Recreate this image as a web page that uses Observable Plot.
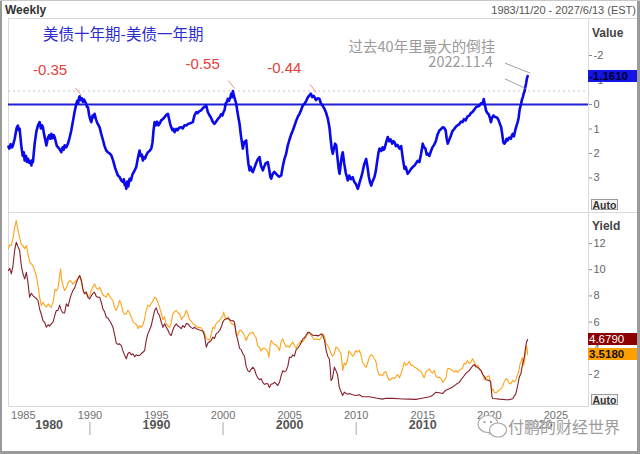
<!DOCTYPE html>
<html><head><meta charset="utf-8">
<script src="https://cdn.jsdelivr.net/npm/d3@7"></script>
<script src="https://cdn.jsdelivr.net/npm/@observablehq/plot@0.6"></script>
<style>
body{margin:0;background:#fff;}
#wrap{position:relative;width:640px;height:454px;overflow:hidden;background:#fff;font-family:"Liberation Sans",Arial,sans-serif;}
.abs{position:absolute;white-space:nowrap;}
.ln{position:absolute;background:#d9d9d9;}
.box{position:absolute;height:12px;line-height:12px;font-size:11.5px;font-weight:bold;padding-left:1px;box-sizing:border-box;}
.auto{position:absolute;width:27px;height:11px;line-height:10px;font-size:10.5px;font-weight:bold;color:#333;border:1px solid #9a9a9a;background:#f4f4f4;text-align:center;box-sizing:border-box;}
</style></head>
<body><div id="wrap"></div>
<script>
// ---------- data ----------
// 10y - 1y spread, decimal year, value
const spread = [
[1983.88,1.72],[1983.95,1.80],[1984.05,1.62],[1984.15,1.75],[1984.22,1.67],[1984.35,1.40],[1984.50,0.95],[1984.59,0.86],[1984.66,1.05],[1984.72,0.99],
[1984.85,1.70],[1984.95,2.10],[1985.03,1.95],[1985.10,2.29],[1985.20,2.10],[1985.28,2.35],[1985.35,2.22],[1985.45,2.38],[1985.52,2.30],[1985.60,2.49],
[1985.66,2.28],[1985.72,2.35],[1985.85,1.60],[1985.98,1.10],[1986.10,0.85],[1986.22,0.72],[1986.32,0.98],[1986.40,0.85],[1986.47,0.93],[1986.55,1.20],
[1986.65,1.45],[1986.73,1.67],[1986.85,1.35],[1986.95,1.25],[1987.03,1.40],[1987.10,1.20],[1987.20,1.38],[1987.28,1.25],[1987.35,1.33],[1987.45,1.55],
[1987.52,1.70],[1987.60,1.74],[1987.72,1.82],[1987.85,1.95],[1987.95,1.75],[1988.03,1.85],[1988.10,1.67],[1988.22,1.75],[1988.35,1.60],[1988.48,1.35],
[1988.60,1.06],[1988.72,0.70],[1988.85,0.30],[1988.98,-0.03],[1989.05,-0.15],[1989.12,-0.05],[1989.18,-0.28],[1989.23,-0.33],[1989.32,-0.18],[1989.40,-0.25],
[1989.48,-0.10],[1989.55,-0.20],[1989.60,-0.16],[1989.70,-0.05],[1989.78,0.10],[1989.85,0.11],[1989.95,0.45],[1990.03,0.62],[1990.11,0.72],[1990.20,0.45],
[1990.28,0.52],[1990.35,0.38],[1990.45,0.60],[1990.55,0.75],[1990.65,0.85],[1990.73,0.93],[1990.85,1.20],[1990.98,1.45],[1991.10,1.70],[1991.23,1.88],
[1991.35,1.95],[1991.48,2.00],[1991.61,2.08],[1991.75,2.30],[1991.90,2.60],[1992.00,2.75],[1992.10,2.90],[1992.22,2.95],[1992.35,3.10],[1992.48,3.17],
[1992.55,3.05],[1992.62,3.30],[1992.68,3.20],[1992.73,3.44],[1992.80,3.15],[1992.88,3.35],[1992.98,3.03],[1993.08,3.10],[1993.20,2.85],[1993.36,2.69],
[1993.48,2.55],[1993.60,2.20],[1993.73,1.88],[1993.82,2.10],[1993.90,2.05],[1993.98,2.29],[1994.08,2.15],[1994.15,2.20],[1994.23,2.08],[1994.35,1.95],
[1994.48,1.90],[1994.61,1.80],[1994.70,1.55],[1994.78,1.05],[1994.86,0.72],[1994.95,0.85],[1995.05,0.70],[1995.15,0.85],[1995.23,0.79],[1995.35,0.65],
[1995.48,0.60],[1995.61,0.52],[1995.70,0.45],[1995.80,0.40],[1995.86,0.38],[1995.95,0.60],[1996.03,0.80],[1996.11,0.93],[1996.20,1.05],[1996.28,1.00],
[1996.36,1.13],[1996.48,1.00],[1996.58,1.05],[1996.70,0.95],[1996.86,0.93],[1996.98,0.98],[1997.10,0.85],[1997.24,0.86],[1997.35,0.80],[1997.48,0.78],
[1997.60,0.75],[1997.73,0.72],[1997.85,0.45],[1997.99,0.31],[1998.10,0.35],[1998.20,0.28],[1998.36,0.24],[1998.48,0.15],[1998.60,0.10],[1998.74,0.04],
[1998.85,0.30],[1998.99,0.45],[1999.10,0.55],[1999.22,0.70],[1999.36,0.79],[1999.48,0.70],[1999.60,0.60],[1999.74,0.52],[1999.85,0.40],[1999.95,0.45],
[2000.04,0.30],[2000.11,0.24],[2000.20,-0.05],[2000.28,-0.10],[2000.36,-0.23],[2000.45,-0.15],[2000.55,-0.30],[2000.62,-0.45],[2000.68,-0.30],[2000.74,-0.55],
[2000.82,-0.35],[2000.90,-0.20],[2000.99,-0.03],[2001.08,0.30],[2001.16,0.55],[2001.24,0.79],[2001.35,1.30],[2001.42,1.55],[2001.49,1.80],[2001.58,1.55],
[2001.66,1.50],[2001.74,1.47],[2001.82,2.00],[2001.90,2.40],[2001.99,2.69],[2002.08,2.55],[2002.16,2.70],[2002.24,2.76],[2002.35,2.60],[2002.48,2.40],
[2002.60,2.25],[2002.74,2.15],[2002.85,2.50],[2002.99,2.69],[2003.08,2.55],[2003.20,2.40],[2003.36,2.35],[2003.45,2.60],[2003.55,2.95],[2003.62,3.03],
[2003.72,2.85],[2003.85,2.75],[2003.99,2.83],[2004.10,2.90],[2004.22,2.95],[2004.37,2.90],[2004.48,2.55],[2004.60,2.25],[2004.74,2.01],[2004.85,1.70],
[2004.98,1.45],[2005.10,1.25],[2005.24,1.06],[2005.38,0.85],[2005.50,0.65],[2005.62,0.50],[2005.74,0.38],[2005.85,0.25],[2005.98,0.05],[2006.12,-0.03],
[2006.25,-0.15],[2006.38,-0.30],[2006.49,-0.37],[2006.60,-0.44],[2006.70,-0.30],[2006.80,-0.35],[2006.87,-0.30],[2006.98,-0.18],[2007.10,-0.25],[2007.24,-0.23],
[2007.35,-0.05],[2007.48,0.05],[2007.62,0.18],[2007.75,0.35],[2007.88,0.60],[2007.99,0.93],[2008.08,1.40],[2008.16,1.80],[2008.24,2.01],[2008.35,1.75],
[2008.42,1.60],[2008.50,1.67],[2008.60,2.20],[2008.68,2.60],[2008.75,2.83],[2008.85,2.40],[2008.92,2.10],[2008.99,1.95],[2009.10,2.40],[2009.22,2.80],
[2009.30,2.95],[2009.37,3.10],[2009.48,2.90],[2009.60,3.05],[2009.74,2.97],[2009.85,3.15],[2009.98,3.25],[2010.05,3.35],[2010.12,3.44],[2010.20,3.30],
[2010.30,3.10],[2010.38,2.97],[2010.48,2.75],[2010.60,2.45],[2010.75,2.22],[2010.85,2.55],[2010.95,2.95],[2011.05,3.20],[2011.13,3.31],[2011.22,3.15],
[2011.30,3.05],[2011.37,2.97],[2011.48,2.70],[2011.58,2.30],[2011.68,1.95],[2011.75,1.80],[2011.88,1.90],[2011.98,1.75],[2012.05,1.85],[2012.13,1.80],
[2012.25,1.55],[2012.37,1.33],[2012.48,1.50],[2012.58,1.42],[2012.70,1.60],[2012.80,1.50],[2012.88,1.54],[2012.98,1.70],[2013.10,1.65],[2013.25,1.80],
[2013.38,1.70],[2013.50,2.20],[2013.63,2.63],[2013.72,2.55],[2013.80,2.70],[2013.87,2.83],[2013.98,2.75],[2014.10,2.65],[2014.25,2.55],[2014.38,2.49],
[2014.50,2.40],[2014.62,2.30],[2014.75,2.35],[2014.88,2.00],[2015.00,1.60],[2015.10,1.75],[2015.20,1.80],[2015.30,2.05],[2015.38,2.01],[2015.50,2.10],
[2015.62,1.90],[2015.74,1.74],[2015.85,1.65],[2015.98,1.50],[2016.10,1.25],[2016.25,1.06],[2016.38,1.00],[2016.49,0.93],[2016.60,0.95],[2016.72,1.05],
[2016.80,1.40],[2016.88,1.60],[2016.98,1.45],[2017.10,1.30],[2017.22,1.10],[2017.38,0.99],[2017.50,0.90],[2017.62,0.85],[2017.75,0.80],[2017.88,0.70],
[2017.99,0.72],[2018.10,0.60],[2018.22,0.65],[2018.35,0.50],[2018.50,0.45],[2018.62,0.35],[2018.75,0.30],[2018.88,0.20],[2019.00,0.11],[2019.12,0.08],
[2019.25,0.05],[2019.38,-0.05],[2019.49,-0.03],[2019.58,-0.22],[2019.66,0.00],[2019.75,0.24],[2019.85,0.35],[2019.95,0.40],[2020.05,0.55],[2020.12,0.72],
[2020.20,0.55],[2020.30,0.45],[2020.40,0.50],[2020.50,0.52],[2020.60,0.55],[2020.70,0.65],[2020.80,0.80],[2020.89,0.93],[2020.98,1.25],[2021.05,1.55],
[2021.13,1.60],[2021.20,1.55],[2021.30,1.40],[2021.38,1.47],[2021.50,1.35],[2021.62,1.40],[2021.70,1.25],[2021.76,1.20],[2021.85,1.30],[2021.95,1.05],
[2022.05,0.85],[2022.13,0.72],[2022.20,0.55],[2022.28,0.20],[2022.35,0.05],[2022.39,-0.03],[2022.45,-0.20],[2022.52,-0.30],[2022.58,-0.45],[2022.63,-0.50],
[2022.70,-0.70],[2022.76,-0.85],[2022.82,-1.05],[2022.88,-1.161]
];
// 10-year yield
const yield10 = [
[1983.88,11.6],[1983.98,11.9],[1984.10,11.85],[1984.22,12.4],[1984.35,13.2],[1984.47,13.76],[1984.55,13.2],[1984.63,12.9],[1984.72,12.48],[1984.85,11.9],
[1984.97,11.85],[1985.10,11.6],[1985.23,11.85],[1985.35,11.2],[1985.48,10.6],[1985.60,10.45],[1985.72,10.3],[1985.85,9.94],[1985.98,9.5],[1986.10,8.79],
[1986.22,7.9],[1986.35,7.27],[1986.48,7.5],[1986.60,7.3],[1986.73,7.14],[1986.88,7.4],[1987.00,7.2],[1987.10,7.14],[1987.25,7.6],[1987.38,8.5],
[1987.48,8.4],[1987.60,8.6],[1987.72,9.5],[1987.80,10.07],[1987.88,9.2],[1988.00,8.7],[1988.10,8.41],[1988.22,8.6],[1988.35,9.0],[1988.48,9.18],
[1988.60,9.1],[1988.72,8.9],[1988.85,9.05],[1989.00,9.2],[1989.12,9.4],[1989.23,9.56],[1989.35,9.1],[1989.48,8.4],[1989.60,8.16],[1989.72,8.3],
[1989.85,7.95],[1989.98,8.0],[1990.10,8.4],[1990.22,8.7],[1990.35,8.92],[1990.48,8.6],[1990.60,8.5],[1990.73,8.66],[1990.85,8.4],[1990.98,8.05],
[1991.10,8.0],[1991.23,7.9],[1991.35,8.2],[1991.48,8.0],[1991.60,7.8],[1991.73,7.65],[1991.85,7.1],[1991.98,6.9],[1992.10,7.2],[1992.23,7.65],
[1992.35,7.4],[1992.48,6.8],[1992.60,6.6],[1992.73,6.63],[1992.85,6.9],[1992.98,6.7],[1993.11,6.37],[1993.25,6.0],[1993.38,5.9],[1993.50,5.8],
[1993.62,5.5],[1993.73,5.74],[1993.85,5.6],[1993.98,5.8],[1994.10,6.2],[1994.23,6.89],[1994.35,7.3],[1994.48,7.2],[1994.60,7.4],[1994.72,7.6],
[1994.86,7.9],[1994.98,7.8],[1995.10,7.5],[1995.23,7.14],[1995.35,6.7],[1995.48,6.2],[1995.60,6.4],[1995.74,5.87],[1995.86,5.7],[1995.98,5.6],
[1996.10,5.9],[1996.23,6.63],[1996.36,6.8],[1996.49,6.89],[1996.62,6.7],[1996.75,6.6],[1996.88,6.2],[1996.98,6.37],[1997.10,6.5],[1997.24,6.89],
[1997.36,6.6],[1997.48,6.2],[1997.60,6.1],[1997.73,5.87],[1997.86,5.8],[1997.98,5.7],[1998.10,5.6],[1998.23,5.61],[1998.36,5.55],[1998.48,5.4],
[1998.60,5.2],[1998.74,4.73],[1998.86,4.7],[1998.98,4.65],[1999.10,5.0],[1999.23,5.61],[1999.36,5.5],[1999.48,5.9],[1999.60,6.0],[1999.74,6.12],
[1999.86,6.3],[1999.98,6.45],[2000.05,6.76],[2000.18,6.3],[2000.30,6.2],[2000.40,6.4],[2000.49,6.12],[2000.62,5.9],[2000.74,5.8],[2000.86,5.87],
[2000.98,5.2],[2001.10,5.0],[2001.24,5.36],[2001.36,5.4],[2001.48,5.2],[2001.60,5.0],[2001.74,4.6],[2001.86,4.9],[2001.98,5.1],[2002.10,5.2],
[2002.24,5.23],[2002.36,5.0],[2002.48,4.8],[2002.60,4.2],[2002.74,4.08],[2002.86,3.8],[2002.98,4.0],[2003.10,4.0],[2003.24,3.9],[2003.36,3.7],
[2003.45,3.32],[2003.55,4.3],[2003.62,4.6],[2003.74,4.4],[2003.86,4.3],[2003.98,4.25],[2004.12,4.1],[2004.24,3.83],[2004.36,4.5],[2004.49,4.72],
[2004.60,4.4],[2004.74,4.1],[2004.86,4.2],[2004.99,4.08],[2005.12,4.3],[2005.24,4.5],[2005.36,4.2],[2005.49,4.0],[2005.62,4.3],[2005.74,4.4],
[2005.86,4.6],[2005.99,4.5],[2006.12,4.7],[2006.24,4.9],[2006.36,5.1],[2006.49,5.23],[2006.62,5.0],[2006.74,4.8],[2006.86,4.65],[2006.99,4.72],
[2007.12,4.7],[2007.24,4.65],[2007.36,4.8],[2007.49,5.1],[2007.62,4.9],[2007.75,4.34],[2007.86,4.2],[2007.98,4.0],[2008.11,3.6],[2008.22,3.4],
[2008.36,3.6],[2008.48,4.1],[2008.62,4.0],[2008.74,3.8],[2008.86,3.6],[2008.99,2.3],[2009.10,2.9],[2009.22,2.7],[2009.37,3.2],[2009.45,3.8],
[2009.60,3.6],[2009.74,3.4],[2009.86,3.55],[2009.98,3.83],[2010.10,3.7],[2010.23,3.85],[2010.36,3.5],[2010.48,2.94],[2010.62,2.7],[2010.75,2.55],
[2010.86,2.9],[2010.98,3.3],[2011.10,3.5],[2011.23,3.45],[2011.36,3.2],[2011.48,3.0],[2011.61,2.3],[2011.73,1.95],[2011.86,2.0],[2011.98,1.9],
[2012.11,2.18],[2012.24,2.2],[2012.36,1.8],[2012.50,1.55],[2012.63,1.67],[2012.75,1.75],[2012.88,1.7],[2012.99,1.85],[2013.12,2.0],[2013.25,1.75],
[2013.38,2.1],[2013.50,2.5],[2013.62,2.94],[2013.74,2.7],[2013.86,2.8],[2013.99,3.0],[2014.12,2.7],[2014.25,2.7],[2014.38,2.55],[2014.50,2.5],
[2014.62,2.4],[2014.74,2.3],[2014.86,2.25],[2014.99,2.0],[2015.10,1.75],[2015.24,2.18],[2015.36,2.3],[2015.50,2.43],[2015.62,2.2],[2015.74,2.1],
[2015.86,2.3],[2015.99,1.9],[2016.10,1.75],[2016.25,1.8],[2016.38,1.7],[2016.50,1.4],[2016.62,1.55],[2016.74,1.75],[2016.86,2.43],[2016.98,2.45],
[2017.10,2.4],[2017.22,2.3],[2017.36,2.18],[2017.48,2.3],[2017.62,2.15],[2017.74,2.35],[2017.86,2.4],[2017.98,2.5],[2018.12,2.85],[2018.24,2.8],
[2018.36,3.07],[2018.50,2.85],[2018.62,2.95],[2018.74,3.2],[2018.86,3.0],[2018.98,2.7],[2019.13,2.69],[2019.25,2.45],[2019.38,2.3],[2019.50,2.05],
[2019.62,1.6],[2019.74,1.7],[2019.86,1.85],[2019.98,1.9],[2020.08,1.5],[2020.18,0.75],[2020.26,0.9],[2020.38,0.65],[2020.50,0.6],[2020.63,0.7],
[2020.76,0.85],[2020.88,0.9],[2021.01,1.1],[2021.12,1.45],[2021.26,1.67],[2021.38,1.6],[2021.50,1.3],[2021.62,1.3],[2021.74,1.55],[2021.86,1.45],
[2021.98,1.55],[2022.10,1.95],[2022.20,2.15],[2022.30,2.8],[2022.39,3.0],[2022.48,3.3],[2022.58,2.7],[2022.68,3.3],[2022.76,4.0],[2022.80,4.2],
[2022.84,3.9],[2022.88,3.518]
];
// 1-year yield
const yield1 = [
[1983.88,9.94],[1983.98,10.1],[1984.10,9.69],[1984.22,10.3],[1984.35,11.5],[1984.47,12.1],[1984.58,11.8],[1984.72,11.47],[1984.85,10.3],[1984.97,9.69],
[1985.10,9.3],[1985.23,9.81],[1985.35,9.0],[1985.47,7.9],[1985.60,8.2],[1985.72,8.03],[1985.85,7.9],[1985.98,7.8],[1986.10,7.65],[1986.22,7.0],
[1986.35,6.6],[1986.47,6.12],[1986.60,6.0],[1986.73,5.61],[1986.86,5.8],[1986.98,5.7],[1987.10,5.87],[1987.23,6.0],[1987.36,6.5],[1987.48,6.89],
[1987.60,6.9],[1987.73,7.3],[1987.85,6.89],[1987.98,6.7],[1988.10,6.7],[1988.23,7.4],[1988.36,7.2],[1988.48,7.7],[1988.60,8.1],[1988.72,8.41],
[1988.85,8.6],[1988.98,9.0],[1989.10,9.3],[1989.23,9.56],[1989.36,9.2],[1989.48,8.5],[1989.60,8.16],[1989.72,8.3],[1989.85,7.9],[1989.98,7.78],
[1990.10,8.0],[1990.23,8.2],[1990.35,8.28],[1990.48,7.95],[1990.60,7.9],[1990.73,7.9],[1990.86,7.5],[1990.98,7.0],[1991.10,6.8],[1991.23,6.37],
[1991.36,6.3],[1991.48,6.1],[1991.60,5.9],[1991.73,5.61],[1991.86,5.0],[1991.98,4.4],[1992.10,4.3],[1992.23,4.34],[1992.36,4.2],[1992.48,3.8],
[1992.60,3.5],[1992.73,3.2],[1992.86,3.6],[1992.98,3.7],[1993.11,3.5],[1993.23,3.58],[1993.36,3.35],[1993.48,3.5],[1993.60,3.45],[1993.73,3.45],
[1993.86,3.6],[1993.98,3.7],[1994.11,3.83],[1994.23,4.6],[1994.35,5.1],[1994.48,5.4],[1994.60,5.7],[1994.73,6.3],[1994.86,6.89],[1994.98,7.1],
[1995.10,6.7],[1995.23,6.5],[1995.36,6.0],[1995.48,5.6],[1995.61,5.87],[1995.74,5.6],[1995.86,5.4],[1995.98,5.1],[1996.11,4.98],[1996.23,5.4],
[1996.36,5.7],[1996.49,5.87],[1996.62,5.7],[1996.75,5.6],[1996.86,5.5],[1996.98,5.74],[1997.11,5.6],[1997.24,5.9],[1997.36,5.87],[1997.48,5.7],
[1997.60,5.6],[1997.73,5.5],[1997.86,5.61],[1997.98,5.5],[1998.11,5.45],[1998.23,5.4],[1998.36,5.36],[1998.48,5.3],[1998.60,5.0],[1998.74,4.08],
[1998.86,4.4],[1998.98,4.5],[1999.11,4.6],[1999.23,4.85],[1999.36,4.75],[1999.48,5.1],[1999.61,5.2],[1999.74,5.36],[1999.86,5.6],[1999.98,6.0],
[2000.11,6.2],[2000.24,6.25],[2000.36,6.3],[2000.49,6.2],[2000.61,6.1],[2000.74,6.12],[2000.86,6.0],[2000.98,5.1],[2001.11,4.6],[2001.24,4.0],
[2001.36,3.9],[2001.49,3.58],[2001.61,3.4],[2001.74,2.6],[2001.86,2.3],[2001.98,2.2],[2002.11,2.4],[2002.24,2.56],[2002.36,2.4],[2002.48,2.0],
[2002.61,1.75],[2002.74,1.6],[2002.87,1.67],[2002.98,1.4],[2003.11,1.25],[2003.24,1.3],[2003.36,1.29],[2003.48,1.0],[2003.61,1.25],[2003.74,1.29],
[2003.87,1.41],[2003.98,1.3],[2004.11,1.16],[2004.24,1.4],[2004.36,1.9],[2004.49,2.3],[2004.61,2.2],[2004.74,2.3],[2004.86,2.6],[2004.99,3.32],
[2005.11,3.3],[2005.24,3.5],[2005.36,3.4],[2005.49,3.9],[2005.61,4.0],[2005.74,4.2],[2005.86,4.4],[2005.99,4.72],[2006.11,4.8],[2006.24,5.0],
[2006.37,5.23],[2006.49,5.2],[2006.61,5.1],[2006.74,5.0],[2006.86,4.98],[2006.98,5.0],[2007.11,4.95],[2007.24,5.0],[2007.37,5.1],[2007.49,5.0],
[2007.62,4.6],[2007.75,3.83],[2007.86,3.4],[2007.98,3.2],[2008.05,2.5],[2008.11,1.54],[2008.22,1.7],[2008.36,2.56],[2008.48,2.3],[2008.60,2.0],
[2008.73,1.03],[2008.86,0.7],[2008.98,0.4],[2009.11,0.65],[2009.24,0.55],[2009.37,0.5],[2009.49,0.55],[2009.74,0.45],[2009.98,0.4],[2010.23,0.45],
[2010.48,0.3],[2010.98,0.3],[2011.48,0.2],[2011.98,0.12],[2012.23,0.19],[2012.73,0.18],[2013.23,0.15],[2013.48,0.13],[2013.98,0.12],[2014.48,0.1],
[2014.74,0.15],[2015.24,0.25],[2015.50,0.3],[2015.74,0.4],[2015.99,0.65],[2016.24,0.6],[2016.49,0.55],[2016.74,0.8],[2016.99,0.91],[2017.24,1.05],
[2017.51,1.25],[2017.74,1.4],[2017.99,1.75],[2018.26,2.1],[2018.49,2.3],[2018.74,2.65],[2018.88,2.75],[2018.98,2.6],[2019.13,2.55],[2019.26,2.4],
[2019.38,2.3],[2019.50,2.0],[2019.63,1.85],[2019.76,1.6],[2019.98,1.55],[2020.10,1.45],[2020.20,0.3],[2020.26,0.17],[2020.50,0.15],[2020.76,0.12],
[2021.00,0.1],[2021.25,0.07],[2021.50,0.08],[2021.75,0.15],[2021.87,0.35],[2021.98,0.5],[2022.10,1.0],[2022.25,1.79],[2022.38,2.1],[2022.50,2.8],
[2022.63,3.32],[2022.73,4.1],[2022.80,4.5],[2022.88,4.679]
];
const xDomain = [1983.885, 2027.45];          // 1983/11/20 - 2027/6/13
const yearTicks = [1985,1990,1995,2000,2005,2010,2015,2020,2025];
const decadeLabels = ["1980","1990","2000","2010","2020"];
const decadeCenters = [1986.94,1995,2005,2015,2023.72];
const decadeBreaks = [1990,2000,2010,2020];
const spreadTicks = [-2,-1,0,1,2,3];
const yieldTicks = [2,4,6,8,10,12];
const prevMaxInversion = -0.55;
const peakLabels = ["-0.35","-0.55","-0.44"];
const noteLines = ["过去40年里最大的倒挂","2022.11.4"];
const lastSpread = -1.161, last1 = 4.679, last10 = 3.518;

// ---------- layout ----------
const wrap = document.getElementById("wrap");
const FONT = "'Liberation Sans', Arial, sans-serif";
const CJK = "'Noto Sans CJK SC', sans-serif";
function add(html){ wrap.insertAdjacentHTML("beforeend", html); }
function line(x,y,w,h,c){ add(`<div class="ln" style="left:${x}px;top:${y}px;width:${w}px;height:${h}px;${c?'background:'+c:''}"></div>`); }

// frame lines
line(8,18,629,1); line(8,18,1,389); line(8,212,629,1); line(588,18,1,389); line(8,406,580,1);
line(0,0,2,454,"#9a9a9a"); line(637,0,3,454,"#9a9a9a"); line(0,451,640,3,"#9a9a9a"); line(0,0,640,1,"#c8c8c8");

const svgStyle = {fontFamily: FONT, fontSize: "11px", color: "#666", background: "transparent", overflow: "visible"};

const peakNotes = [
  {label: peakLabels[0], tx:1987.01, ty:-1.39, x1:1988.90, y1:-0.68, x2:1989.35, y2:-0.37},
  {label: peakLabels[1], tx:1998.47, ty:-1.66, x1:2000.40, y1:-0.98, x2:2000.86, y2:-0.65},
  {label: peakLabels[2], tx:2004.60, ty:-1.48, x1:2006.54, y1:-0.82, x2:2007.00, y2:-0.49}
];
const grayNotes = [
  {label: noteLines[0], tx:2020.44, ty:-2.34},
  {label: noteLines[1], tx:2020.26, ty:-1.73}
];
const grayPointers = [
  {x1:2021.17, y1:-1.69, x2:2023.08, y2:-1.28},
  {x1:2021.17, y1:-1.05, x2:2022.78, y2:-0.64}
];

const topPlot = Plot.plot({
  width: 640, height: 194,
  marginLeft: 8, marginRight: 52, marginTop: 0, marginBottom: 0,
  style: svgStyle,
  x: {domain: xDomain, axis: null},
  y: {domain: [4.41, -3.51]},
  marks: [
    Plot.ruleY([prevMaxInversion], {stroke: "#c4c4c4", strokeDasharray: "2,3"}),
    Plot.ruleY([0], {stroke: "#2020d8", strokeWidth: 2}),
    Plot.line(spread, {x: d => d[0], y: d => d[1], stroke: "#0909ea", strokeWidth: 2.6, strokeLinejoin: "round"}),
    Plot.link(peakNotes, {x1: "x1", y1: "y1", x2: "x2", y2: "y2", stroke: "#e87070", strokeWidth: 0.8}),
    Plot.text(peakNotes, {x: "tx", y: "ty", text: "label", fill: "#e4403a", fontSize: 15, fontFamily: FONT}),
    Plot.link(grayPointers, {x1: "x1", y1: "y1", x2: "x2", y2: "y2", stroke: "#8a8a8a", strokeWidth: 0.8}),
    Plot.text(grayNotes, {x: "tx", y: "ty", text: "label", fill: "#9a9a9a", fontSize: 14.5, textAnchor: "end", fontFamily: CJK}),
    Plot.axisY({anchor: "right", ticks: spreadTicks, tickSize: 3, tickPadding: 2, tickFormat: d => String(d), fontSize: 11, label: null, stroke: "#888"})
  ]
});
topPlot.style.position = "absolute"; topPlot.style.left = "0px"; topPlot.style.top = "18px";
wrap.appendChild(topPlot);

const botPlot = Plot.plot({
  width: 640, height: 242,
  marginLeft: 8, marginRight: 52, marginTop: 0, marginBottom: 47,
  style: svgStyle,
  x: {domain: xDomain},
  y: {domain: [-0.52, 14.37]},
  marks: [
    Plot.line(yield10, {x: d => d[0], y: d => d[1], stroke: "#ffa31a", strokeWidth: 1.1}),
    Plot.line(yield1, {x: d => d[0], y: d => d[1], stroke: "#86202c", strokeWidth: 1.1}),
    Plot.axisY({anchor: "right", ticks: yieldTicks, tickSize: 3, tickPadding: 2, tickFormat: d => String(d), fontSize: 11, label: null, stroke: "#888"}),
    Plot.axisX({ticks: yearTicks, tickFormat: d => String(d), tickSize: 0, tickPadding: 4, fontSize: 11, label: null, fill: "#707070"}),
    Plot.ruleX(decadeBreaks, {y1: -1.66, y2: -2.66, stroke: "#a8a8a8"}),
    Plot.text(decadeLabels, {x: (d, i) => decadeCenters[i], text: d => d, frameAnchor: "bottom", dy: 21, fontWeight: "bold", fontSize: 12.5, fill: "#555", fontFamily: FONT})
  ]
});
botPlot.style.position = "absolute"; botPlot.style.left = "0px"; botPlot.style.top = "212px";
wrap.appendChild(botPlot);

// header
add(`<div class="abs" style="left:5px;top:3px;font-size:12px;font-weight:bold;color:#333;line-height:14px">Weekly</div>`);
add(`<div class="abs" style="right:4px;top:4px;font-size:11px;color:#555;line-height:13px">1983/11/20 - 2027/6/13 (EST)</div>`);
// panel title + axis titles
add(`<div class="abs" style="left:43px;top:24px;font-family:${CJK};font-size:15.5px;color:#2d2dcf;line-height:18px">美债十年期-美债一年期</div>`);
add(`<div class="abs" style="left:592px;top:26px;font-size:12px;font-weight:bold;color:#444;line-height:14px">Value</div>`);
add(`<div class="abs" style="left:592px;top:219px;font-size:12px;font-weight:bold;color:#444;line-height:14px">Yield</div>`);
add(`<div class="auto" style="left:591px;top:199px">Auto</div>`);
add(`<div class="auto" style="left:591px;top:394px">Auto</div>`);

// last-value boxes, placed with the plots' own scales
const ty = 18 + topPlot.scale("y").apply(lastSpread);
const by1 = 212 + botPlot.scale("y").apply(last1);
const by10 = 212 + botPlot.scale("y").apply(last10);
add(`<div class="box" style="left:588px;width:49px;top:${ty-6}px;background:#1414e6;color:#00002a">${lastSpread.toFixed(4)}</div>`);
add(`<div class="box" style="left:588px;width:49px;top:${by1-6}px;background:#8b0000;color:#fff;font-weight:normal">${last1.toFixed(4)}</div>`);
add(`<div class="box" style="left:588px;width:49px;top:${by10-6}px;background:#ffa000;color:#111">${last10.toFixed(4)}</div>`);

// watermark
add(`<svg class="abs" style="left:476px;top:414px" width="34" height="26"><ellipse cx="12" cy="10" rx="10" ry="8.5" fill="#fff" stroke="#a8a8a8" stroke-width="1.2"/><ellipse cx="22" cy="16" rx="8.5" ry="7" fill="#fff" stroke="#a8a8a8" stroke-width="1.2"/><circle cx="8.5" cy="8" r="1.2" fill="#a8a8a8"/><circle cx="15" cy="8" r="1.2" fill="#a8a8a8"/></svg>`);
add(`<div class="abs" style="left:508px;top:416px;font-family:${CJK};font-size:16px;line-height:20px;color:#9c9c9c;-webkit-text-stroke:0;text-shadow:0 0 2px #fff,0 0 2px #fff">付鹏的财经世界</div>`);
</script></body></html>
